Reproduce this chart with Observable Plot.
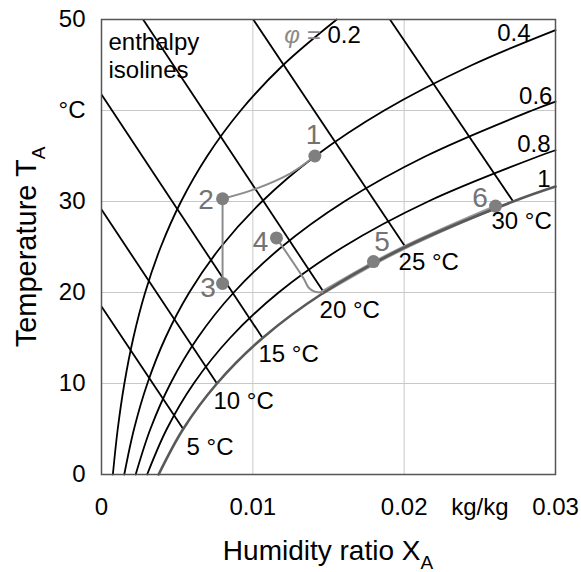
<!DOCTYPE html>
<html><head><meta charset="utf-8">
<script src="https://cdn.jsdelivr.net/npm/d3@7"></script>
<script src="https://cdn.jsdelivr.net/npm/@observablehq/plot@0.6"></script>
<style>body{margin:0;background:#fff}</style>
</head><body><div id="chart"></div>
<script>
// Relative humidity isolines (humidity ratio X vs temperature T)
const phi02T = [0,5,10,15,20,25,30,35,40,45,50];
const phi02X = [0.000751,0.001073,0.001512,0.002101,0.002885,0.003916,0.005258,0.006989,0.009201,0.012008,0.015544];
const phi04T = [0,5,10,15,20,25,30,35,40,45,48.84];
const phi04X = [0.001504,0.002150,0.003031,0.004217,0.005798,0.007882,0.010606,0.014136,0.018678,0.024488,0.03];
const phi06T = [0,5,10,15,20,25,30,35,40,40.98];
const phi06X = [0.002259,0.003231,0.004557,0.006347,0.008737,0.011899,0.016046,0.021448,0.028444,0.03];
const phi08T = [0,5,10,15,20,25,30,35,35.63];
const phi08X = [0.003016,0.004315,0.006091,0.008491,0.011704,0.015967,0.021580,0.028929,0.03];
const satT = [0,5,10,15,20,25,30,31.64];
const satX = [0.003774,0.005399,0.007631,0.010646,0.014698,0.020082,0.027205,0.03];

const phiLabels = ["0.4","0.6","0.8","1"];
const phiLabelX = [0.02835,0.0298,0.02967,0.02967];
const phiLabelT = [48.5,41.6,36.3,32.4];

// Enthalpy isolines
const enthLabels = ["5 °C","10 °C","15 °C","20 °C","25 °C","30 °C"];
const enthStartX = [0,0,0,0.00275,0.01003,0.01906];
const enthStartT = [18.47,29.11,41.76,50,50,50];
const enthEndX = [0.005399,0.007631,0.010646,0.014698,0.020082,0.027205];
const enthEndT = [5,10,15,20,25,30];
const enthLabelX = [0.00562,0.0074,0.01037,0.01441,0.01963,0.02577];
const enthLabelT = [2.97,8.02,13.19,18.02,23.3,27.8];

// Process states
const pointNames = ["1","2","3","4","5","6"];
const pointX = [0.0141,0.0080,0.0080,0.01156,0.01797,0.02604];
const pointT = [35.0,30.3,21.0,26.0,23.4,29.5];
const pointLabelX = [0.01401,0.00691,0.00704,0.01051,0.01854,0.02501];
const pointLabelT = [37.25,30.2,20.5,25.5,25.5,30.4];

// Process paths
const path12X = [0.0080,0.01004,0.01249,0.0141];
const path12T = [30.3,31.3,33.1,35.0];
const path23X = [0.0080,0.0080];
const path23T = [30.3,21.0];
const path4X = [0.01156,0.01337,0.01368,0.01408,0.0146];
const path4T = [26.0,21.5,20.55,20.1,20.0];
const pathSatX = [0.0146,0.01808,0.02008,0.02337,0.02604];
const pathSatT = [20.0,23.3,25.0,27.5,29.4];

// Axes
const xTickVals = [0,0.01,0.02,0.025,0.03];
const xTickLabels = ["0","0.01","0.02","kg/kg","0.03"];
const yTickVals = [0,10,20,30,40,50];
const yTickLabels = ["0","10","20","30","°C","50"];
const gridX = [0.01,0.02];
const gridY = [10,20,30,40];

const toPts = (xs, ts, key) => xs.map((x,i)=>({x, t: ts[i], k: key}));
const phiCurves = [
  ...toPts(phi02X, phi02T, "0.2"),
  ...toPts(phi04X, phi04T, "0.4"),
  ...toPts(phi06X, phi06T, "0.6"),
  ...toPts(phi08X, phi08T, "0.8")
];
const satCurve = toPts(satX, satT, "1");
const enth = enthLabels.map((l,i)=>({l, x1: enthStartX[i], y1: enthStartT[i], x2: enthEndX[i], y2: enthEndT[i], lx: enthLabelX[i], ly: enthLabelT[i]}));
const phiLab = phiLabels.map((l,i)=>({l, x: phiLabelX[i], t: phiLabelT[i]}));
const points = pointNames.map((n,i)=>({n, x: pointX[i], t: pointT[i], lx: pointLabelX[i], lt: pointLabelT[i]}));
const paths = [
  ...toPts(path12X, path12T, "a"),
  ...toPts(path23X, path23T, "b"),
  ...toPts(path4X, path4T, "c")
];
const pathSat = toPts(pathSatX, pathSatT, "d");
const xLab = new Map(xTickVals.map((v,i)=>[v, xTickLabels[i]]));
const yLab = new Map(yTickVals.map((v,i)=>[v, yTickLabels[i]]));

const FONT = "'Liberation Sans', Arial, Helvetica, sans-serif";
const W = 581, H = 572, ML = 101, MR = 26, MT = 19, MB = 98;

const chart = Plot.plot({
  width: W, height: H,
  marginLeft: ML, marginRight: MR, marginTop: MT, marginBottom: MB,
  style: {fontFamily: FONT, fontSize: "24px", background: "#fff", color: "#000"},
  x: {domain: [0, 0.03]},
  y: {domain: [0, 50]},
  marks: [
    Plot.ruleX(gridX, {stroke: "#c8c8c8", strokeWidth: 1}),
    Plot.ruleY(gridY, {stroke: "#c8c8c8", strokeWidth: 1}),
    Plot.line(phiCurves, {x: "x", y: "t", z: "k", curve: "catmull-rom", stroke: "#000", strokeWidth: 1.8}),
    Plot.link(enth, {x1: "x1", y1: "y1", x2: "x2", y2: "y2", stroke: "#000", strokeWidth: 1.8}),
    Plot.line(pathSat, {x: "x", y: "t", curve: "catmull-rom", stroke: "#9a9a9a", strokeWidth: 4.5}),
    Plot.line(satCurve, {x: "x", y: "t", curve: "catmull-rom", stroke: "#595959", strokeWidth: 2.6}),
    Plot.line(paths, {x: "x", y: "t", z: "k", curve: "catmull-rom", stroke: "#8c8c8c", strokeWidth: 2}),
    Plot.dot(points, {x: "x", y: "t", r: 6.5, fill: "#7f7f7f", stroke: "none"}),
    Plot.text(points, {x: "lx", y: "lt", text: "n", fill: "#737373", fontSize: 28}),
    Plot.text(enth, {x: "lx", y: "ly", text: "l", textAnchor: "start", fill: "#000", fontSize: 24}),
    Plot.text(phiLab, {x: "x", y: "t", text: "l", textAnchor: "end", fill: "#000", fontSize: 24}),
    Plot.text(["φ ="], {x: [0.01447], y: [48.3], text: d => d, textAnchor: "end", fill: "#8a8a8a", fontStyle: "italic", fontSize: 24}),
    Plot.text(["0.2"], {x: [0.01493], y: [48.3], text: d => d, textAnchor: "start", fill: "#000", fontSize: 24}),
    Plot.text(["enthalpy\nisolines"], {frameAnchor: "top-left", text: d => d, textAnchor: "start", lineAnchor: "top", dx: 7, dy: 10, lineHeight: 1.18, fill: "#000", fontSize: 24}),
    Plot.axisX({ticks: xTickVals, tickFormat: d => xLab.get(d), tickSize: 0, tickPadding: 23, fontSize: 24, label: null}),
    Plot.axisY({ticks: yTickVals, tickFormat: d => yLab.get(d), tickSize: 0, tickPadding: 16, fontSize: 24, label: null}),
    Plot.frame({stroke: "#555", strokeWidth: 1.5})
  ]
});

const svg = d3.select(chart);
const tx = svg.append("text")
  .attr("x", ML + (W - ML - MR) / 2).attr("y", 560)
  .attr("text-anchor", "middle").attr("font-size", 28).attr("fill", "#000")
  .attr("font-family", FONT);
tx.append("tspan").text("Humidity ratio X");
tx.append("tspan").attr("font-size", 19).attr("dy", 9).text("A");

const ty = svg.append("text")
  .attr("transform", "translate(36,247) rotate(-90)")
  .attr("text-anchor", "middle").attr("font-size", 29).attr("fill", "#000")
  .attr("font-family", FONT);
ty.append("tspan").text("Temperature T");
ty.append("tspan").attr("font-size", 19).attr("dy", 9).text("A");

document.getElementById("chart").appendChild(chart);
</script>
</body></html>
